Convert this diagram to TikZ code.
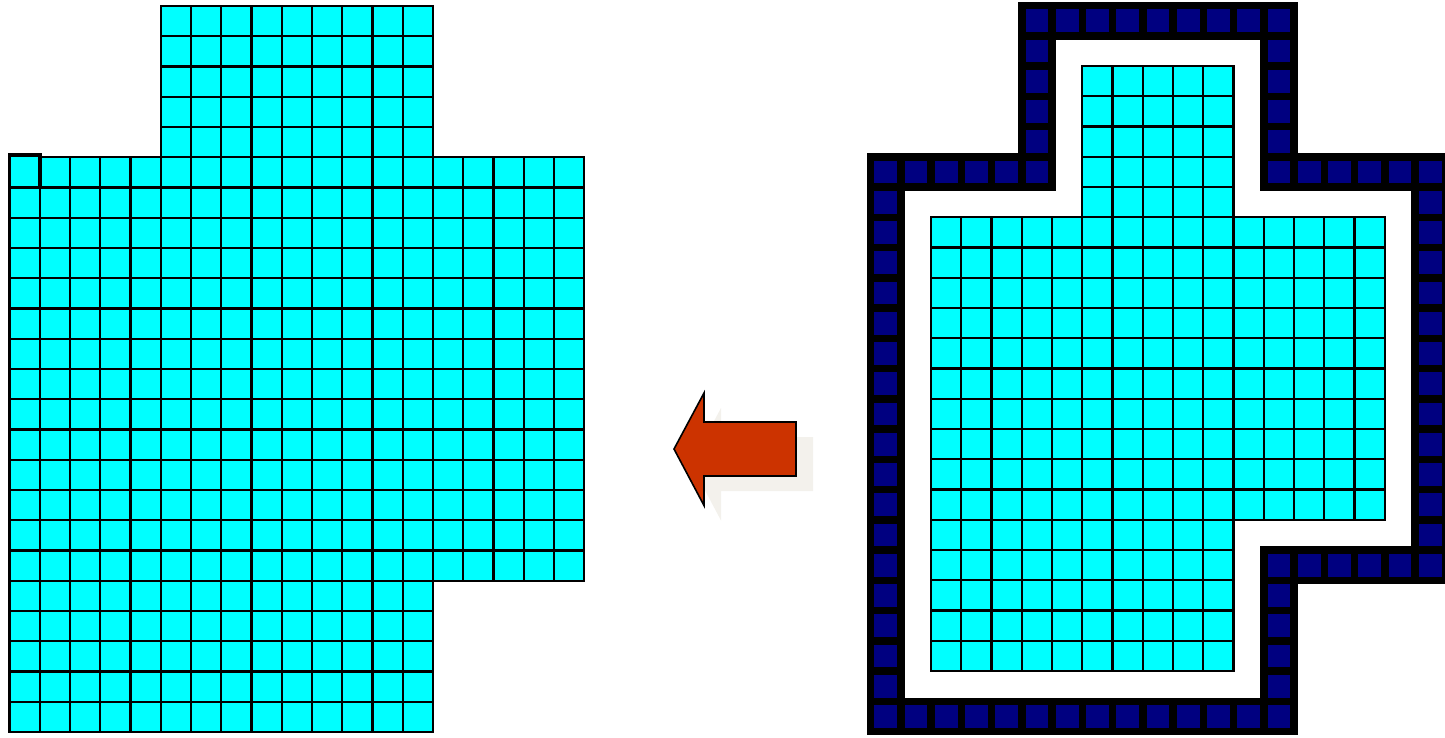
\documentclass[tikz,border=0pt]{standalone}
\usepackage{tikz}
\definecolor{cCyan}{RGB}{0,255,255}
\definecolor{cNavy}{RGB}{0,0,128}
\definecolor{cRust}{RGB}{204,51,0}
\definecolor{cShadow}{RGB}{243,241,236}
\tikzset{
	cell/.style      ={draw=black, fill=cCyan, line width=2.2pt},
	wallcell/.style  ={draw=black, fill=cNavy, line width=7.5pt},
	bigarrow/.style  ={draw=black, fill=cRust, line width=1.6pt, line join=miter},
	arrowshadow/.style={fill=cShadow},
}
\newcommand{\cellsize}{30.25pt}
\newcommand{\arrowoutline}{(0,0) -- (30,-56) -- (30,-27) -- (122,-27) -- (122,27) -- (30,27) -- (30,56.5) -- cycle}

\begin{document}
\begin{tikzpicture}[x=1pt, y=-1pt]
	\useasboundingbox (0,0) rectangle (1445,737);
	% left block: full grid
	\begin{scope}[shift={(9.5,6)}, x=\cellsize, y=-\cellsize]
		\foreach \c/\r/\w/\h in {5/0/9/5, 0/5/19/14, 0/19/14/5} {
			\foreach \i in {1,...,\w} \foreach \j in {1,...,\h}
				\draw[cell] (\c+\i-1,\r+\j-1) rectangle ++(1,1);
		}
		\draw[cell, line width=3.6pt] (0,4.93) rectangle (1,6);
	\end{scope}
	% arrow with its shadow
	\fill[arrowshadow, shift={(691,464)}] \arrowoutline;
	\draw[bigarrow, shift={(674,449)}] \arrowoutline;
	% right block: inner grid and wall
	\begin{scope}[shift={(931,66)}, x=\cellsize, y=-\cellsize]
		\foreach \c/\r/\w/\h in {5/0/5/5, 0/5/15/10, 0/15/10/5} {
			\foreach \i in {1,...,\w} \foreach \j in {1,...,\h}
				\draw[cell] (\c+\i-1,\r+\j-1) rectangle ++(1,1);
		}
		\foreach \c/\r/\w/\h in {3/-2/9/1, 3/-1/1/5, 11/-1/1/5, -2/3/5/1, 12/3/5/1,
			-2/4/1/18, 16/4/1/13, 11/16/5/1, 11/17/1/5, -1/21/12/1} {
			\foreach \i in {1,...,\w} \foreach \j in {1,...,\h}
				\draw[wallcell] (\c+\i-1,\r+\j-1) rectangle ++(1,1);
		}
	\end{scope}
\end{tikzpicture}
\end{document}
